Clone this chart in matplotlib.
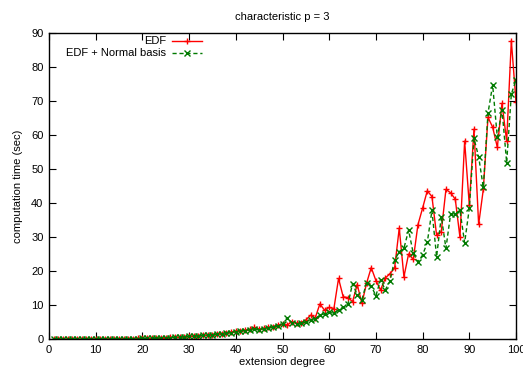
import matplotlib
matplotlib.use("Agg")
import matplotlib.pyplot as plt
from matplotlib.lines import Line2D

degrees = list(range(1, 101))

edf = [0.0, 0.0, 0.0, 0.0, 0.0, 0.01, 0.01, 0.01, 0.02, 0.02,
       0.03, 0.04, 0.05, 0.06, 0.07, 0.08, 0.10, 0.12, 0.15, 0.18,
       0.20, 0.24, 0.28, 0.33, 0.38, 0.45, 0.50, 0.60, 0.70, 0.80,
       0.90, 1.00, 1.10, 1.20, 1.30, 1.50, 1.60, 1.80, 2.00, 2.30,
       2.40, 2.60, 2.80, 3.40, 2.90, 3.10, 3.40, 3.60, 4.10, 4.30,
       4.10, 5.10, 4.60, 4.80, 5.60, 7.00, 6.20, 10.3, 8.5, 9.3,
       8.9, 17.8, 12.4, 12.2, 11.0, 16.0, 10.5, 16.4, 21.0, 17.2,
       14.4, 17.9, 19.2, 20.8, 32.6, 18.3, 25.0, 23.4, 33.6, 38.5,
       43.6, 41.9, 30.5, 31.6, 44.0, 43.0, 41.1, 29.9, 58.2, 39.4,
       61.7, 33.7, 44.0, 65.2, 62.3, 56.4, 69.3, 58.2, 87.7, 69.8]

edf_normal = [0.0, 0.0, 0.0, 0.0, 0.0, 0.01, 0.01, 0.01, 0.02, 0.02,
              0.03, 0.03, 0.04, 0.05, 0.06, 0.08, 0.09, 0.11, 0.14, 0.17,
              0.19, 0.22, 0.26, 0.30, 0.35, 0.42, 0.48, 0.56, 0.65, 0.75,
              0.85, 0.95, 1.05, 1.15, 1.25, 1.40, 1.50, 1.70, 1.90, 2.10,
              2.30, 2.50, 2.60, 2.80, 2.70, 3.00, 3.20, 3.50, 3.80, 4.30,
              6.30, 4.80, 4.30, 4.60, 5.00, 5.60, 6.00, 7.00, 7.40, 7.80,
              7.60, 8.60, 9.30, 10.2, 16.3, 13.0, 11.5, 16.6, 15.6, 12.7,
              17.5, 14.4, 17.0, 23.2, 25.7, 26.7, 32.0, 25.2, 22.7, 24.7,
              28.4, 37.8, 24.2, 36.0, 26.7, 36.8, 36.7, 37.9, 28.3, 38.4,
              59.0, 53.6, 44.6, 66.4, 74.7, 59.3, 67.5, 51.9, 72.0, 76.2]

x_ticks = list(range(0, 101, 10))
y_ticks = list(range(0, 91, 10))

plt.rcParams['font.family'] = ['Liberation Sans', 'DejaVu Sans']
fig = plt.figure(figsize=(5.23, 3.69), dpi=100)
ax = fig.add_axes([49/523, 30/369, (516-49)/523, (339-33)/369])

red = '#ff0000'
green = '#007a00'
ax.plot(degrees, edf, color=red, lw=1.0, marker='+', ms=5, mew=1.0)
ax.plot(degrees, edf_normal, color=green, lw=1.0, ls=(0, (3, 2)), marker='x',
        ms=4, mew=1.0)

ax.set_xlim(0, 100)
ax.set_ylim(0, 90)
ax.set_xticks(x_ticks)
ax.set_yticks(y_ticks)
ax.tick_params(direction='in', length=5, width=0.8, top=True, right=True,
               labelsize=8, pad=4)
for s in ax.spines.values():
    s.set_linewidth(1.0)

ax.set_title('characteristic p = 3', fontsize=8, pad=9)
ax.set_xlabel('extension degree', fontsize=8, labelpad=2)
ax.set_ylabel('computation time (sec)', fontsize=8, labelpad=6)

# gnuplot-style key: text right-aligned, sample to the right
tx = (166-49)/467
y1 = 1 - (41-33)/306
y2 = 1 - (53-33)/306
ax.text(tx, y1, 'EDF', transform=ax.transAxes, ha='right', va='center', fontsize=8)
ax.text(tx, y2, 'EDF + Normal basis', transform=ax.transAxes, ha='right', va='center', fontsize=8)
lx0 = (172-49)/467
lx1 = (202-49)/467
ax.add_line(Line2D([lx0, lx1], [y1, y1], transform=ax.transAxes, color=red, lw=1.0))
ax.add_line(Line2D([(lx0+lx1)/2], [y1], transform=ax.transAxes, color=red,
                   marker='+', ms=5, mew=1.0))
ax.add_line(Line2D([lx0, lx1], [y2, y2], transform=ax.transAxes, color=green, lw=1.0,
                   ls=(0, (3, 2))))
ax.add_line(Line2D([(lx0+lx1)/2], [y2], transform=ax.transAxes, color=green,
                   marker='x', ms=4, mew=1.0))

fig.savefig('out.png', dpi=100)
